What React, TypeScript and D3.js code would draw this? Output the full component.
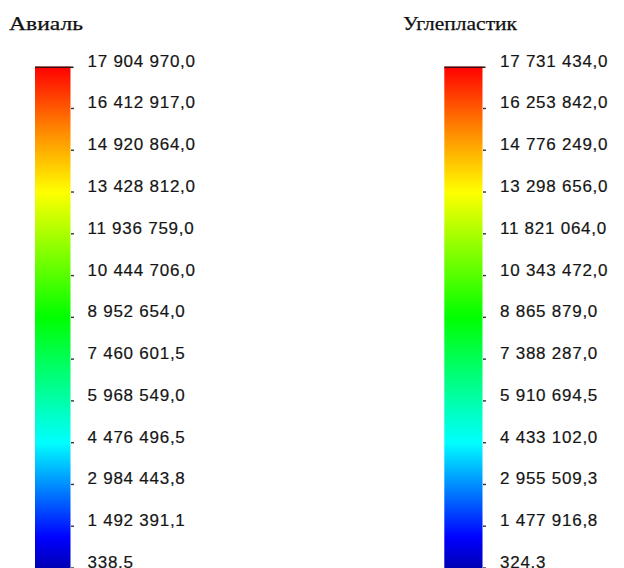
import React from "react";
import * as d3 from "d3";

const W = 624;
const H = 568;

const titles = ["Авиаль", "Углепластик"];

const valuesAvial = [
  17904970.0, 16412917.0, 14920864.0, 13428812.0, 11936759.0, 10444706.0,
  8952654.0, 7460601.5, 5968549.0, 4476496.5, 2984443.8, 1492391.1, 338.5,
];
const labelsAvial = [
  "17 904 970,0", "16 412 917,0", "14 920 864,0", "13 428 812,0", "11 936 759,0",
  "10 444 706,0", "8 952 654,0", "7 460 601,5", "5 968 549,0", "4 476 496,5",
  "2 984 443,8", "1 492 391,1", "338.5",
];

const valuesCarbon = [
  17731434.0, 16253842.0, 14776249.0, 13298656.0, 11821064.0, 10343472.0,
  8865879.0, 7388287.0, 5910694.5, 4433102.0, 2955509.3, 1477916.8, 324.3,
];
const labelsCarbon = [
  "17 731 434,0", "16 253 842,0", "14 776 249,0", "13 298 656,0", "11 821 064,0",
  "10 343 472,0", "8 865 879,0", "7 388 287,0", "5 910 694,5", "4 433 102,0",
  "2 955 509,3", "1 477 916,8", "324.3",
];

// colour stops of the rainbow scale (fraction of range -> colour)
const colorStops: [number, string][] = [
  [0, "#0000b4"],
  [0.06, "#0000ff"],
  [0.25, "#00ffff"],
  [0.5, "#00ff00"],
  [0.75, "#ffff00"],
  [0.88, "#ff8000"],
  [1, "#ff0000"],
];

type LegendProps = {
  id: string;
  title: string;
  values: number[];
  labels: string[];
  titleX: number;
  titleW: number;
  barX: number;
  barW: number;
  labelX: number;
};

function Legend({ id, title, values, labels, titleX, titleW, barX, barW, labelX }: LegendProps) {
  const top = 66.7;
  const bottom = 568;
  const y = d3
    .scaleLinear()
    .domain([d3.min(values) as number, d3.max(values) as number])
    .range([bottom, top]);
  return (
    <g>
      <defs>
        <linearGradient id={id} x1="0" y1="1" x2="0" y2="0">
          {colorStops.map(([o, c]) => (
            <stop key={o} offset={o} stopColor={c} />
          ))}
        </linearGradient>
      </defs>
      <text
        x={titleX}
        y={30}
        fontFamily="'Liberation Serif', 'Times New Roman', serif"
        fontSize={18.5}
        fill="#111"
        stroke="#111"
        strokeWidth={0.25}
        textLength={titleW}
        lengthAdjust="spacingAndGlyphs"
      >
        {title}
      </text>
      <rect x={barX} y={top} width={barW} height={bottom - top} fill={`url(#${id})`} />
      <line x1={barX} x2={barX + barW + 3} y1={top + 0.5} y2={top + 0.5} stroke="#3a1010" strokeWidth={1.6} />
      {values.map((v, i) => (
        <g key={i}>
          {i > 0 && (
            <line
              x1={barX + barW + 0.5}
              x2={barX + barW + 3.5}
              y1={y(v)}
              y2={y(v)}
              stroke="#333"
              strokeWidth={1.4}
            />
          )}
          <text
            x={labelX}
            y={y(v)}
            fontFamily="'Liberation Sans', Arial, sans-serif"
            fontSize={17}
            fill="#151515"
            stroke="#151515"
            strokeWidth={0.2}
            letterSpacing={0.75}
          >
            {labels[i]}
          </text>
        </g>
      ))}
    </g>
  );
}

export default function App() {
  return (
    <svg
      width={W}
      height={H}
      style={{ position: "absolute", left: 0, top: 0, display: "block", background: "#fff" }}
    >
      <rect width={W} height={H} fill="#fff" />
      <Legend
        id="gradA"
        title={titles[0]}
        values={valuesAvial}
        labels={labelsAvial}
        titleX={9}
        titleW={74}
        barX={35}
        barW={35.5}
        labelX={87.5}
      />
      <Legend
        id="gradB"
        title={titles[1]}
        values={valuesCarbon}
        labels={labelsCarbon}
        titleX={403}
        titleW={114}
        barX={444.3}
        barW={38.2}
        labelX={500}
      />
    </svg>
  );
}
